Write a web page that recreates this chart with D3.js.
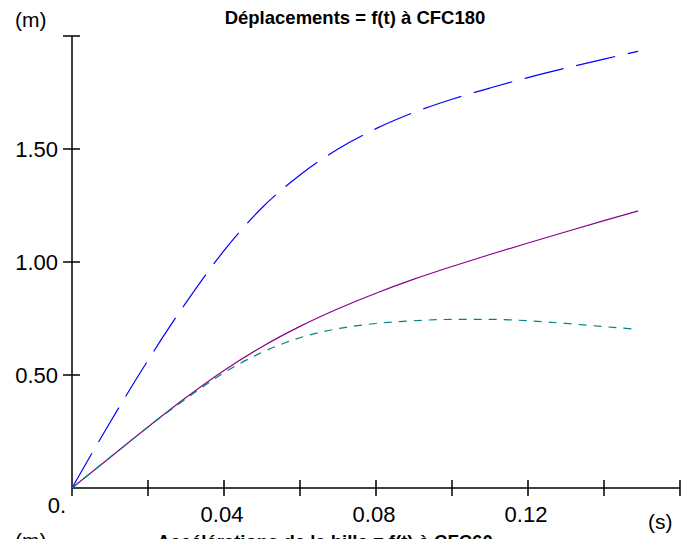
<!DOCTYPE html>
<html>
<head>
<meta charset="utf-8">
<script src="https://cdn.jsdelivr.net/npm/d3@7"></script>
<style>
  body { margin: 0; background: #fff; }
  text { font-family: "Liberation Sans", Arial, sans-serif; }
</style>
</head>
<body>
<div id="chart"></div>
<script>
// temps (s) et deplacements (m)
const times      = [0, 0.01, 0.02, 0.03, 0.04, 0.05, 0.06, 0.07, 0.08, 0.09, 0.10, 0.11, 0.12, 0.13, 0.14, 0.149];
const deplBlue   = [0, 0.29, 0.565, 0.82, 1.05, 1.24, 1.385, 1.50, 1.59, 1.662, 1.72, 1.77, 1.816, 1.858, 1.898, 1.932];
const deplPurple = [0, 0.135, 0.27, 0.40, 0.52, 0.625, 0.715, 0.793, 0.862, 0.924, 0.98, 1.033, 1.084, 1.134, 1.183, 1.226];
const deplTeal   = [0, 0.135, 0.27, 0.395, 0.51, 0.60, 0.665, 0.705, 0.728, 0.740, 0.746, 0.746, 0.740, 0.728, 0.714, 0.702];

const xTicks = [0.02, 0.04, 0.06, 0.08, 0.10, 0.12, 0.14, 0.16];
const xLabels = [0.04, 0.08, 0.12];
const yTicks = [0.5, 1.0, 1.5, 2.0];
const yLabels = [0.5, 1.0, 1.5];

const width = 692, height = 539;

let svg = d3.select("#chart").append("svg")
  .attr("width", width)
  .attr("height", height);

let x = d3.scaleLinear().domain([0, 0.16]).range([72, 680]);
let y = d3.scaleLinear().domain([0, 2]).range([488, 36]);

// axes
svg.append("line")
  .attr("x1", x(0)).attr("x2", x(0.16))
  .attr("y1", y(0)).attr("y2", y(0))
  .attr("stroke", "black").attr("stroke-width", 1.5);

svg.append("line")
  .attr("x1", x(0)).attr("x2", x(0))
  .attr("y1", y(2)).attr("y2", y(0) + 8)
  .attr("stroke", "black").attr("stroke-width", 1.5);

svg.selectAll(".xtick")
  .data(xTicks)
  .enter().append("line")
  .attr("class", "xtick")
  .attr("x1", d => x(d)).attr("x2", d => x(d))
  .attr("y1", y(0) - 8).attr("y2", y(0) + 8)
  .attr("stroke", "black").attr("stroke-width", 1.5);

svg.selectAll(".ytick")
  .data(yTicks)
  .enter().append("line")
  .attr("class", "ytick")
  .attr("x1", x(0) - 9).attr("x2", x(0) + 8)
  .attr("y1", d => y(d)).attr("y2", d => y(d))
  .attr("stroke", "black").attr("stroke-width", 1.5);

svg.selectAll(".xlabel")
  .data(xLabels)
  .enter().append("text")
  .attr("class", "xlabel")
  .attr("x", d => x(d) - 2)
  .attr("y", y(0) + 34)
  .attr("text-anchor", "middle")
  .style("font-size", "22px")
  .text(d => d3.format(".2f")(d));

svg.selectAll(".ylabel")
  .data(yLabels)
  .enter().append("text")
  .attr("class", "ylabel")
  .attr("x", x(0) - 14)
  .attr("y", d => y(d) + 8)
  .attr("text-anchor", "end")
  .style("font-size", "22px")
  .text(d => d3.format(".2f")(d));

svg.append("text")
  .attr("x", 57).attr("y", 513)
  .attr("text-anchor", "middle")
  .style("font-size", "22px")
  .text("0.");

svg.append("text")
  .attr("x", 15).attr("y", 27)
  .style("font-size", "21px")
  .text("(m)");

svg.append("text")
  .attr("x", 648).attr("y", 529)
  .style("font-size", "21px")
  .text("(s)");

svg.append("text")
  .attr("x", 355).attr("y", 24)
  .attr("text-anchor", "middle")
  .style("font-size", "18.5px")
  .style("font-weight", "bold")
  .text("Déplacements = f(t) à CFC180");

// courbes
let line = d3.line()
  .x(d => x(d[0]))
  .y(d => y(d[1]))
  .curve(d3.curveMonotoneX);

let series = [
  {vals: deplBlue, color: "#0000ff", dash: "40,13"},
  {vals: deplPurple, color: "#8b008b", dash: null},
  {vals: deplTeal, color: "#008080", dash: "8,7"}
];

series.forEach(s => {
  svg.append("path")
    .datum(times.map((t, i) => [t, s.vals[i]]))
    .attr("fill", "none")
    .attr("stroke", s.color)
    .attr("stroke-width", 1.2)
    .attr("stroke-dasharray", s.dash)
    .attr("d", line);
});

// titre du graphique suivant, coupe en bas comme sur l'original
svg.append("text")
  .attr("x", 15).attr("y", 548)
  .style("font-size", "21px")
  .text("(m)");

svg.append("text")
  .attr("x", 157).attr("y", 548)
  .style("font-size", "18.5px")
  .style("font-weight", "bold")
  .text("Accélérations de la bille = f(t) à CFC60");
</script>
</body>
</html>
